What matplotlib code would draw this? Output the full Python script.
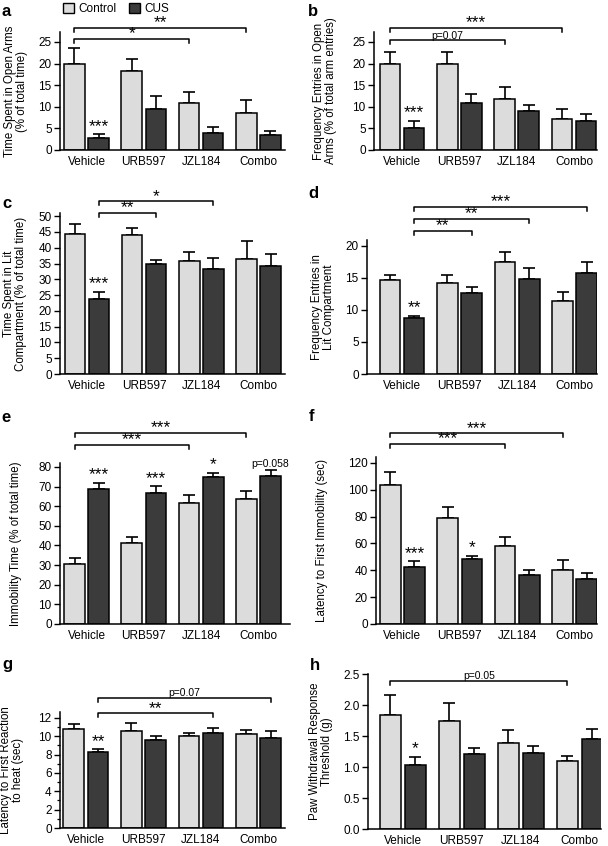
import matplotlib
matplotlib.use("Agg")
import matplotlib.pyplot as plt
from matplotlib.patches import Patch
from matplotlib.ticker import MultipleLocator, FormatStrFormatter

plt.rcParams['font.family'] = ['Liberation Sans', 'DejaVu Sans']

groups = ["Vehicle", "URB597", "JZL184", "Combo"]

# a - time spent in open arms
a_ctrl = [20.0, 18.2, 10.8, 8.5]
a_ctrl_err = [3.6, 2.8, 2.7, 3.0]
a_cus = [2.85, 9.6, 4.0, 3.5]
a_cus_err = [0.75, 2.9, 1.4, 1.0]

# b - frequency entries in open arms
b_ctrl = [19.8, 19.8, 11.7, 7.1]
b_ctrl_err = [2.9, 2.9, 2.8, 2.5]
b_cus = [5.2, 10.9, 9.0, 6.8]
b_cus_err = [1.6, 2.0, 1.5, 1.5]

# c - time spent in lit compartment
c_ctrl = [44.4, 43.9, 35.8, 36.4]
c_ctrl_err = [3.0, 2.3, 2.8, 5.6]
c_cus = [23.9, 34.9, 33.4, 34.2]
c_cus_err = [2.1, 1.3, 3.3, 3.9]

# d - frequency entries in lit compartment
d_ctrl = [14.6, 14.2, 17.5, 11.4]
d_ctrl_err = [0.9, 1.2, 1.5, 1.4]
d_cus = [8.8, 12.6, 14.8, 15.8]
d_cus_err = [0.3, 0.9, 1.8, 1.6]

# e - immobility time
e_ctrl = [30.5, 41.1, 61.8, 63.6]
e_ctrl_err = [3.0, 3.1, 3.7, 3.9]
e_cus = [68.7, 66.5, 74.8, 75.6]
e_cus_err = [3.2, 3.7, 2.2, 2.9]

# f - latency to first immobility
f_ctrl = [103.4, 79.0, 58.4, 40.5]
f_ctrl_err = [9.9, 8.0, 6.6, 7.0]
f_cus = [42.2, 48.7, 36.3, 33.3]
f_cus_err = [4.5, 2.2, 4.2, 4.7]

# g - latency to first reaction to heat
g_ctrl = [10.8, 10.6, 10.0, 10.2]
g_ctrl_err = [0.5, 0.8, 0.4, 0.5]
g_cus = [8.3, 9.6, 10.4, 9.8]
g_cus_err = [0.3, 0.4, 0.5, 0.8]

# h - paw withdrawal threshold
h_ctrl = [1.84, 1.75, 1.38, 1.10]
h_ctrl_err = [0.32, 0.29, 0.22, 0.08]
h_cus = [1.035, 1.21, 1.22, 1.45]
h_cus_err = [0.125, 0.10, 0.12, 0.16]

CTRL_COL = '#dcdcdc'
CUS_COL = '#3b3b3b'
OFF = 0.21
W = 0.36
STAR_FS = 12.5
P_FS = 7.5

W_PX, H_PX = 608, 846
fig = plt.figure(figsize=(W_PX / 100, H_PX / 100), dpi=100)


def px_axes(l, t, r, b):
    return fig.add_axes([l / W_PX, 1 - b / H_PX, (r - l) / W_PX, (b - t) / H_PX])


def xpos(g, s):
    return g - OFF if s == 'c' else g + OFF


def draw_panel(box, xlim, ylim, step, ctrl, ctrl_err, cus, cus_err, ylabel,
               label_x, marks, brackets, minor=None, fmt=None):
    ax = px_axes(*box)
    xs = range(len(groups))
    xc = [x - OFF for x in xs]
    xu = [x + OFF for x in xs]
    ax.bar(xc, ctrl, W, color=CTRL_COL, edgecolor='black', linewidth=1.1, zorder=2)
    ax.bar(xu, cus, W, color=CUS_COL, edgecolor='black', linewidth=1.1, zorder=2)
    ax.errorbar(xc, ctrl, yerr=[[0] * 4, ctrl_err], fmt='none', ecolor='black',
                elinewidth=1.2, capsize=4, capthick=1.2, zorder=1)
    ax.errorbar(xu, cus, yerr=[[0] * 4, cus_err], fmt='none', ecolor='black',
                elinewidth=1.2, capsize=4, capthick=1.2, zorder=1)
    ax.set_xlim(*xlim)
    ax.set_ylim(*ylim)
    ax.yaxis.set_major_locator(MultipleLocator(step))
    if minor:
        ax.yaxis.set_minor_locator(MultipleLocator(minor))
        ax.tick_params(axis='y', which='minor', length=2.5, width=0.9)
    if fmt:
        ax.yaxis.set_major_formatter(FormatStrFormatter(fmt))
    ax.set_xticks(list(xs))
    ax.set_xticklabels(groups, fontsize=8.5)
    ax.tick_params(axis='x', length=0, pad=4)
    ax.tick_params(axis='y', labelsize=8.5, length=4, width=1.0, pad=2)
    for s in ['top', 'right']:
        ax.spines[s].set_visible(False)
    for s in ['left', 'bottom']:
        ax.spines[s].set_linewidth(1.1)
    ax.set_ylabel(ylabel, fontsize=8.3, va='center', linespacing=1.0)
    ax.yaxis.set_label_coords(label_x, 0.5)

    # one pixel in data units
    px = (ylim[1] - ylim[0]) / (box[3] - box[1])

    vals = {'c': (ctrl, ctrl_err), 'u': (cus, cus_err)}
    for g, s, txt in marks:
        v, e = vals[s]
        top = v[g] + e[g]
        if txt.startswith('p'):
            ax.text(xpos(g, s), top + 3 * px, txt, ha='center', va='baseline',
                    fontsize=P_FS)
        else:
            ax.text(xpos(g, s), top + 3.5 * px, txt, ha='center', va='baseline',
                    fontsize=STAR_FS)

    for g1, s1, g2, s2, y, txt in brackets:
        x1, x2 = xpos(g1, s1), xpos(g2, s2)
        ax.plot([x1, x1, x2, x2], [y - 4 * px, y, y, y - 4 * px], color='black',
                lw=1.1, clip_on=False)
        if txt.startswith('p'):
            ax.text((x1 + x2) / 2, y + 1.5 * px, txt, ha='center', va='baseline',
                    fontsize=P_FS, clip_on=False)
        else:
            ax.text((x1 + x2) / 2, y + 0.5 * px, txt, ha='center', va='baseline',
                    fontsize=STAR_FS, clip_on=False)
    return ax


draw_panel((60, 32, 285, 150), (-0.463, 3.464), (0, 27.3), 5,
           a_ctrl, a_ctrl_err, a_cus, a_cus_err,
           "Time Spent in Open Arms\n(% of total time)", -0.195,
           [(0, 'u', '***')],
           [(0, 'c', 2, 'c', 25.7, '*'), (0, 'c', 3, 'c', 28.2, '**')])

draw_panel((374, 32, 597, 150), (-0.489, 3.40), (0, 27.3), 5,
           b_ctrl, b_ctrl_err, b_cus, b_cus_err,
           "Frequency Entries in Open\nArms (% of total arm entries)", -0.22,
           [(0, 'u', '***')],
           [(0, 'c', 2, 'c', 25.4, 'p=0.07'), (0, 'c', 3, 'c', 28.2, '***')])

draw_panel((60, 213, 285, 374), (-0.47, 3.46), (0, 51), 5,
           c_ctrl, c_ctrl_err, c_cus, c_cus_err,
           "Time Spent in Lit\nCompartment (% of total time)", -0.2,
           [(0, 'u', '***')],
           [(0, 'u', 1, 'u', 51.0, '**'), (0, 'u', 2, 'u', 54.7, '*')])

draw_panel((367, 240, 597, 374), (-0.61, 3.39), (0, 20.9), 5,
           d_ctrl, d_ctrl_err, d_cus, d_cus_err,
           "Frequency Entries in\nLit Compartment", -0.19,
           [(0, 'u', '**')],
           [(0, 'u', 1, 'u', 22.3, '**'), (0, 'u', 2, 'u', 24.2, '**'),
            (0, 'u', 3, 'u', 26.1, '***')])

draw_panel((60, 463, 290, 624), (-0.463, 3.55), (0, 82), 10,
           e_ctrl, e_ctrl_err, e_cus, e_cus_err,
           "Immobility Time (% of total time)", -0.19,
           [(0, 'u', '***'), (1, 'u', '***'), (2, 'u', '*'), (3, 'u', 'p=0.058')],
           [(0, 'c', 2, 'c', 91.2, '***'), (0, 'c', 3, 'c', 97.3, '***')])

draw_panel((376, 457, 597, 624), (-0.46, 3.39), (0, 124.4), 20,
           f_ctrl, f_ctrl_err, f_cus, f_cus_err,
           "Latency to First Immobility (sec)", -0.245,
           [(0, 'u', '***'), (1, 'u', '*')],
           [(0, 'c', 2, 'c', 134, '***'), (0, 'c', 3, 'c', 142, '***')])

draw_panel((60, 712, 285, 828), (-0.45, 3.46), (0, 12.65), 2,
           g_ctrl, g_ctrl_err, g_cus, g_cus_err,
           "Latency to First Reaction\nto heat (sec)", -0.215,
           [(0, 'u', '**')],
           [(0, 'u', 2, 'u', 12.5, '**'), (0, 'u', 3, 'u', 14.2, 'p=0.07')],
           minor=1)

draw_panel((368, 674, 601, 829), (-0.59, 3.36), (0, 2.5), 0.5,
           h_ctrl, h_ctrl_err, h_cus, h_cus_err,
           "Paw Withdrawal Response\nThreshold (g)", -0.2,
           [(0, 'u', '*')],
           [(0, 'c', 3, 'c', 2.39, 'p=0.05')],
           fmt='%.1f')

# panel letters
letters = [('a', 2, 11), ('b', 308, 11), ('c', 2, 204), ('d', 308, 193),
           ('e', 1, 418), ('f', 309, 416), ('g', 2, 664), ('h', 310, 665)]
for t, x, y in letters:
    fig.text(x / W_PX, 1 - y / H_PX, t, fontsize=12, fontweight='bold',
             va='center', ha='left')

handles = [Patch(facecolor=CTRL_COL, edgecolor='black', linewidth=1.0),
           Patch(facecolor=CUS_COL, edgecolor='black', linewidth=1.0)]
fig.legend(handles, ['Control', 'CUS'], loc='upper left',
           bbox_to_anchor=(63 / W_PX, 1 - 3 / H_PX), ncol=2, frameon=False,
           fontsize=8.5, handlelength=0.9, handleheight=0.9, handletextpad=0.4,
           columnspacing=1.1, borderaxespad=0, borderpad=0)

fig.savefig('out.png', dpi=100)
